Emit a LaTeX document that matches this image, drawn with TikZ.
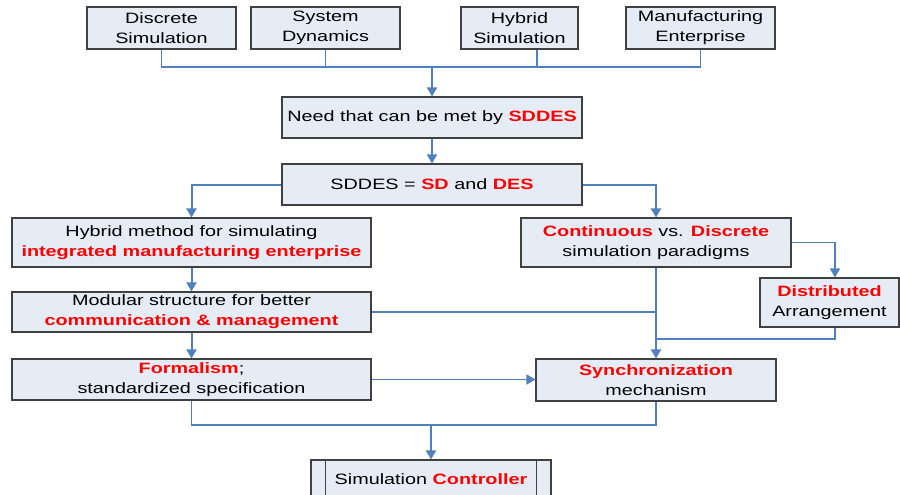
\documentclass[tikz,border=0pt]{standalone}
\usepackage{fontspec}
\setmainfont{Liberation Sans}[FakeStretch=1.32]
\usetikzlibrary{arrows.meta,calc}
\definecolor{boxfill}{RGB}{230,236,246}
\definecolor{boxline}{RGB}{64,64,64}
\definecolor{link}{RGB}{79,129,189}
\definecolor{hot}{RGB}{255,0,0}
\newcommand{\hl}[1]{\textbf{\textcolor{hot}{#1}}}

\begin{document}
\begin{tikzpicture}[x=1pt,y=-1pt,
  box/.style={draw=boxline, line width=1.1pt, fill=boxfill, inner sep=0pt,
              align=center, font=\fontsize{15}{20}\selectfont},
  wire/.style={draw=link, line width=1.5pt},
  feed/.style={wire, line width=2pt, -{Triangle[width=10pt,length=9pt]}},
]
\fill[white] (0,0) rectangle (900,495);
\useasboundingbox (0,0) rectangle (900,495);
\clip (0,0) rectangle (900,495);

% source topics
\node[box, minimum width=149pt, minimum height=42pt] (ds) at (161.5,28) {Discrete\\Simulation};
\node[box, minimum width=149pt, minimum height=42pt] (sd) at (325.5,28) {System\\Dynamics};
\node[box, minimum width=117pt, minimum height=42pt] (hs) at (519.5,28) {Hybrid\\Simulation};
\node[box, minimum width=149pt, minimum height=42pt] (me) at (700.5,28) {Manufacturing\\Enterprise};

% central chain
\node[box, minimum width=300pt, minimum height=41pt] (need) at (432,117.5) {Need that can be met by \hl{SDDES}};
\node[box, minimum width=300pt, minimum height=41pt] (sddes) at (432,184.5) {SDDES = \hl{SD} and \hl{DES}};

% left column
\node[box, minimum width=359pt, minimum height=49pt] (hyb) at (191.5,242.5) {Hybrid method for simulating\\\hl{integrated manufacturing enterprise}};
\node[box, minimum width=359pt, minimum height=40pt] (mod) at (191.5,312) {Modular structure for better\\\hl{communication \& management}};
\node[box, minimum width=359pt, minimum height=41pt] (form) at (191.5,379.5) {\hl{Formalism};\\standardized specification};

% right column
\node[box, minimum width=270pt, minimum height=49pt] (cont) at (656,242.5) {\hl{Continuous} vs. \hl{Discrete}\\simulation paradigms};
\node[box, minimum width=139pt, minimum height=49pt] (dist) at (829.5,302.5) {\hl{Distributed}\\Arrangement};
\node[box, minimum width=240pt, minimum height=42pt] (sync) at (656,380) {\hl{Synchronization}\\mechanism};

% controller (predefined-process box)
\node[box, minimum width=240pt, minimum height=38pt] (ctrl) at (431,479) {Simulation \hl{Controller}};
\draw[boxline, line width=1.1pt] ([xshift=15pt]ctrl.north west) -- ([xshift=15pt]ctrl.south west);
\draw[boxline, line width=1.1pt] ([xshift=-15pt]ctrl.north east) -- ([xshift=-15pt]ctrl.south east);

% collecting bus
\coordinate (bus) at (need.north |- 0,67);
\draw[wire] (ds.south) -- (ds.south |- bus) -- (me.south |- bus) -- (me.south);
\draw[wire] (sd.south) -- (sd.south |- bus);
\draw[wire] ([xshift=17.5pt]hs.south) -- ([xshift=17.5pt]hs.south |- bus);
\draw[feed] (bus) -- (need.north);

\draw[feed] (need.south) -- (sddes.north);
\draw[feed] (sddes.west) -| (hyb.north);
\draw[feed] (sddes.east) -| (cont.north);
\draw[feed] (hyb.south) -- (mod.north);
\draw[feed] (mod.south) -- (form.north);

\draw[feed, line width=1.5pt] (cont.east) -| ([xshift=5.5pt]dist.north);
\draw[feed] (cont.south) -- (sync.north);
\draw[wire] (mod.east) -- (mod.east -| cont.south);
\coordinate (join) at (cont.south |- 0,339);
\draw[wire] ([xshift=5.5pt]dist.south) |- (join);

\draw[feed, line width=1.5pt] (form.east) -- (sync.west |- form.east);

\coordinate (merge) at (ctrl.north |- 0,425);
\draw[wire] (form.south) |- (merge) -| (sync.south);
\draw[feed] (merge) -- (ctrl.north);
\end{tikzpicture}
\end{document}
